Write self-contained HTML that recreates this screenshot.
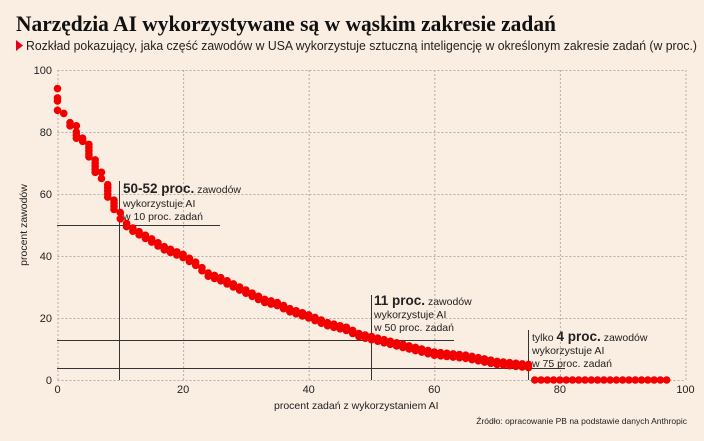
<!DOCTYPE html>
<html><head><meta charset="utf-8"><style>
body{margin:0;background:#faede1;}
svg{display:block;font-family:"Liberation Sans",sans-serif;}
</style></head><body>
<svg id="s" width="704" height="441" viewBox="0 0 704 441">
<rect width="704" height="441" fill="#faede1"/>
<text x="16" y="31" font-family="Liberation Serif,serif" font-weight="bold" font-size="22" fill="#111" textLength="540" lengthAdjust="spacingAndGlyphs">Narzędzia AI wykorzystywane są w wąskim zakresie zadań</text>
<polygon points="16,40 16,51 23,45.5" fill="#e2001a"/>
<text x="26" y="50" font-size="13" fill="#222" textLength="671" lengthAdjust="spacingAndGlyphs">Rozkład pokazujący, jaka część zawodów w USA wykorzystuje sztuczną inteligencję w określonym zakresie zadań (w proc.)</text>
<g id="grid" stroke="#b8aca2" stroke-dasharray="2,2" stroke-width="1" fill="none"></g>
<g font-size="11" fill="#222" id="ticks"></g>
<g stroke="#333" stroke-width="1">
<line x1="57" y1="225.5" x2="220" y2="225.5"/>
<line x1="119.5" y1="181" x2="119.5" y2="380"/>
<line x1="57" y1="340.5" x2="454" y2="340.5"/>
<line x1="371.5" y1="295" x2="371.5" y2="380"/>
<line x1="57" y1="368.5" x2="565" y2="368.5"/>
<line x1="528.5" y1="330" x2="528.5" y2="380"/>
</g>
<g id="dots" fill="#f20000"></g>
<g font-size="10.5" fill="#222">
<text x="123" y="193"><tspan font-weight="bold" font-size="13.5">50-52 proc.</tspan> zawodów</text>
<text x="123" y="207">wykorzystuje AI</text>
<text x="123" y="220">w 10 proc. zadań</text>
<text x="374" y="305"><tspan font-weight="bold" font-size="13.5">11 proc.</tspan> zawodów</text>
<text x="374" y="318">wykorzystuje AI</text>
<text x="374" y="331">w 50 proc. zadań</text>
<text x="532" y="341">tylko <tspan font-weight="bold" font-size="13.5">4 proc.</tspan> zawodów</text>
<text x="532" y="354">wykorzystuje AI</text>
<text x="532" y="367">w 75 proc. zadań</text>
</g>
<text x="274" y="409" font-size="10.5" fill="#222">procent zadań z wykorzystaniem AI</text>
<text transform="translate(27,225) rotate(-90)" text-anchor="middle" font-size="10.5" fill="#222">procent zawodów</text>
<text x="687" y="424" text-anchor="end" font-size="8.5" fill="#222">Źródło: opracowanie PB na podstawie danych Anthropic</text>
</svg>
<script>
var X=function(v){return 57.5+v*6.28},Y=function(v){return 380-v*3.1};
var ns="http://www.w3.org/2000/svg",g=document.getElementById('grid'),t=document.getElementById('ticks'),d=document.getElementById('dots');
function el(p,tag,a,txt){var e=document.createElementNS(ns,tag);for(var k in a)e.setAttribute(k,a[k]);if(txt)e.textContent=txt;p.appendChild(e);}
for(var i=0;i<=100;i+=20){el(g,'line',{x1:X(0),x2:X(100),y1:Y(i)+.5,y2:Y(i)+.5});el(g,'line',{x1:X(i)+.5,x2:X(i)+.5,y1:Y(0),y2:Y(100)});
el(t,'text',{x:52,y:Y(i)+4,'text-anchor':'end'},String(i));el(t,'text',{x:X(i),y:393,'text-anchor':'middle'},String(i));}
var pts=[[0,94],[0,91],[0,90],[0,87],[1,86],[2,83],[2,82],[3,82],[3,80],[3,79],[3,78],[4,78],[4,77],[5,76],[5,75],[5,74],[5,73],[5,72],[6,71],[6,70],[6,69],[6,68],[6,67],[7,67],[7,65],[8,63],[8,62],[8,61],[8,60],[8,59],[9,58],[9,57],[9,56],[9,55],[10,54],[10,52]];
var kp=[[10,51],[12,48],[15,44.5],[17,42],[20,39.5],[22,37],[24,33.5],[26,32],[30,28],[33,25],[35,24],[37,22],[40,20],[43,17.5],[46,16],[48,14],[50,13],[55,10.5],[60,8],[65,7],[70,5],[75,4]];
function f(x){for(var i=0;i<kp.length-1;i++){if(x<=kp[i+1][0]){var a=kp[i],b=kp[i+1];return a[1]+(b[1]-a[1])*(x-a[0])/(b[0]-a[0]);}}return 4;}
for(var x=11;x<=75;x++){var y=f(x);pts.push([x,y]);pts.push([x,y+1]);}
for(var x=76;x<=97;x++)pts.push([x,0]);
pts.forEach(function(p){el(d,'circle',{cx:X(p[0]),cy:Y(p[1]),r:3.8});});
</script>
</body></html>
